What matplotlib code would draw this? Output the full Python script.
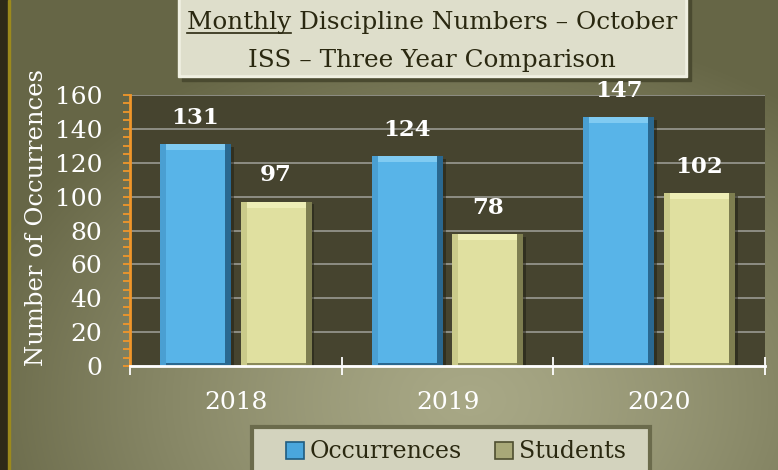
import numpy as np
import matplotlib
matplotlib.use("Agg")
import matplotlib.pyplot as plt
from matplotlib.patches import Rectangle
from matplotlib.lines import Line2D
import matplotlib.patheffects as pe

# ---- data ----
years = ["2018", "2019", "2020"]
occurrences = [131, 124, 147]
students = [97, 78, 102]
series_names = ["Occurrences", "Students"]
yticks = [0, 20, 40, 60, 80, 100, 120, 140, 160]
title_line1 = "Monthly Discipline Numbers \u2013 October"
title_line2 = "ISS \u2013 Three Year Comparison"
ylabel = "Number of Occurrences"

W, H = 778, 470
FONT = "DejaVu Serif"
fig = plt.figure(figsize=(W / 100, H / 100), dpi=100)

# ---- background gradient ----
bg = fig.add_axes([0, 0, 1, 1], zorder=-10)
yy, xx = np.mgrid[0:H, 0:W]
d = np.sqrt(((xx - 470) / 520.0) ** 2 + ((yy - 400) / 380.0) ** 2)
t = np.clip(d, 0, 1) ** 1.3
light = np.array([0xa8, 0xa8, 0x86]) / 255
dark = np.array([0x66, 0x66, 0x46]) / 255
img = light[None, None, :] * (1 - t[..., None]) + dark[None, None, :] * t[..., None]
bg.imshow(img, extent=[0, W, H, 0], aspect="auto")
bg.set_xlim(0, W)
bg.set_ylim(H, 0)
bg.axis("off")
# left border
bg.add_patch(Rectangle((0, 0), 8, H, color="#2e2a18", zorder=2))
bg.add_patch(Rectangle((8, 0), 2.5, H, color="#9c8a1c", zorder=2))

# ---- title box ----
bg.add_patch(Rectangle((182, -10), 509, 91, color="#4a4a30", zorder=3))
bg.add_patch(Rectangle((178, -10), 509, 87, color="#f0f0e2", zorder=4))
bg.add_patch(Rectangle((181, -10), 503, 84, color="#dedecb", zorder=5))

# ---- legend box (frame) ----
bg.add_patch(Rectangle((252, 427), 398, 60, facecolor="#d3d3be", edgecolor="#6b6b4c",
                       linewidth=3, zorder=3))

# ---- main axes ----
ax = fig.add_axes([130 / W, 1 - 366 / H, 635 / W, 271 / H])
ax.set_facecolor("#46442f")
x = np.arange(len(years))
bw = 0.335
off = 0.19
px = 635 / 3.0           # pixels per category unit
py = 271 / 160.0         # pixels per value unit
dx = 6.0 / px
dy = 6.0 / py
dyb = 3.0 / py


def bevel_bars(xpos, vals, face, left, right, top, bottom):
    vals = np.array(vals, dtype=float)
    ax.bar(xpos, vals, bw, color=right, zorder=3,
           path_effects=[pe.SimplePatchShadow(offset=(2, -2), shadow_rgbFace="#1e1d12", alpha=0.5),
                         pe.Normal()])
    ax.bar(xpos - dx / 2, vals, bw - dx, color=left, zorder=4)
    ax.bar(xpos, [dyb] * len(vals), bw - 2 * dx, color=bottom, zorder=5)
    ax.bar(xpos, vals - dy - dyb, bw - 2 * dx, bottom=dyb, color=face, zorder=5)
    ax.bar(xpos, [dy] * len(vals), bw - 2 * dx, bottom=vals - dy, color=top, zorder=5)


bevel_bars(x - off, occurrences, "#58b4e8", "#4a9fd2", "#2a6890", "#80cbf2", "#2a6890")
bevel_bars(x + off, students, "#e0e0a0", "#cacA8a", "#7e7e50", "#eeeeb6", "#8a8a5a")

for xs, vals in ((x - off, occurrences), (x + off, students)):
    for xi, v in zip(xs, vals):
        ax.annotate(str(v), (xi, v), xytext=(0, 11), textcoords="offset points",
                    ha="center", va="bottom", color="white", fontsize=16.5,
                    fontweight="bold", family=FONT, zorder=6)

ax.set_xlim(-0.5, len(years) - 0.5)
ax.set_ylim(0, 160)
ax.set_yticks(yticks)
ax.set_yticks(np.arange(0, 161, 5), minor=True)
ax.set_yticklabels([str(v) for v in yticks], family=FONT, fontsize=18, color="white")
ax.yaxis.grid(True, which="major", color="#9a9a92", linewidth=1.2, zorder=1)
ax.set_axisbelow(True)
ax.tick_params(axis="y", which="both", direction="out", length=5, width=1.3,
               color="#f0962a", pad=15)

ax.set_xticks(np.arange(-0.5, len(years), 1.0))
ax.set_xticklabels([])
ax.set_xticks(x, minor=True)
ax.set_xticklabels(years, minor=True, family=FONT, fontsize=18, color="white")
ax.tick_params(axis="x", which="major", direction="inout", length=13, width=1.3, color="white")
ax.tick_params(axis="x", which="minor", length=0, pad=18)

for s in ("top", "right"):
    ax.spines[s].set_visible(False)
ax.spines["left"].set_color("#f0962a")
ax.spines["left"].set_linewidth(2)
ax.spines["bottom"].set_color("white")
ax.spines["bottom"].set_linewidth(2)
ax.spines["bottom"].set_zorder(7)

# y label
fig.text(37 / W, 1 - 217 / H, ylabel, rotation=90, ha="center", va="center",
         family=FONT, fontsize=17.5, color="white")

# ---- title text ----
tc = "#2a2810"
cx = 432 / W
t1 = fig.text(cx, 1 - 29 / H, title_line1, ha="center", va="baseline",
              family=FONT, fontsize=17.8, color=tc, zorder=10)
t2 = fig.text(cx, 1 - 67 / H, title_line2, ha="center", va="baseline",
              family=FONT, fontsize=17.8, color=tc, zorder=10)

# ---- legend ----
handles = [Rectangle((0, 0), 1, 1, facecolor="#4aa6dc", edgecolor="#1f5c80", linewidth=1.2),
           Rectangle((0, 0), 1, 1, facecolor="#a8a878", edgecolor="#4e4e30", linewidth=1.2)]
leg = fig.legend(handles, series_names, loc="center", bbox_to_anchor=(456 / W, 1 - 452 / H),
                 ncol=2, frameon=False, prop={"family": FONT, "size": 17},
                 handlelength=0.75, handleheight=0.75, handletextpad=0.25, columnspacing=1.4,
                 borderpad=0.3, labelcolor=tc)

# underline "Monthly"
fig.canvas.draw()
r = fig.canvas.get_renderer()
bb = t1.get_window_extent(r)
tmp = fig.text(0, 0, "Monthly", family=FONT, fontsize=17.8)
wm = tmp.get_window_extent(r).width
tmp.remove()
ybase = (1 - 29 / H) * H - 4
fig.add_artist(Line2D([bb.x0 / W, (bb.x0 + wm) / W], [ybase / H, ybase / H],
                      transform=fig.transFigure, color=tc, linewidth=1.2, zorder=10))

fig.savefig("out.png", dpi=100)
